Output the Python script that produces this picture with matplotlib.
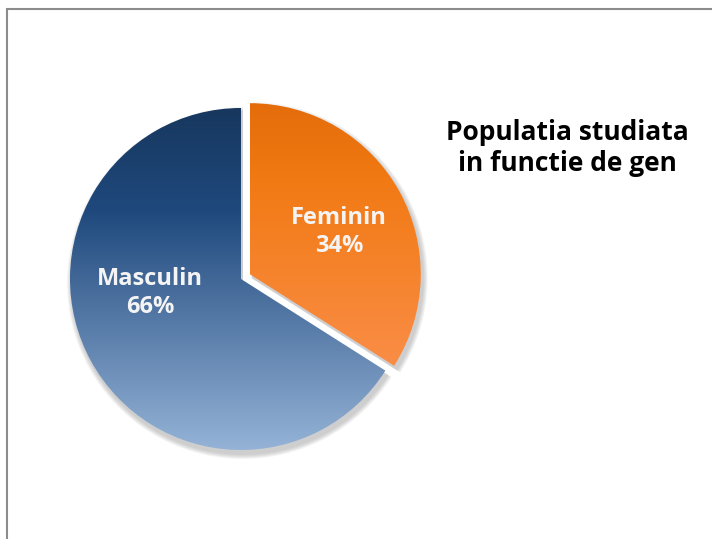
import numpy as np
import matplotlib.pyplot as plt
from matplotlib.colors import LinearSegmentedColormap
from matplotlib.patches import Rectangle, Wedge

# Data
labels = ["Feminin", "Masculin"]
values = [34, 66]
title = "Populatia studiata\nin functie de gen"

# Vertical gradients (top -> bottom) for each slice
gradients = {
    "Feminin": ["#E46C0A", "#F27A14", "#FA8D46"],
    "Masculin": ["#17375E", "#1F497D", "#95B3D7"],
}

W, H = 712, 539
fig = plt.figure(figsize=(W / 100, H / 100), dpi=100)
ax = fig.add_axes([0, 0, 1, 1])

center = (241, 260)
radius = 171
explode = [10, 0]  # pie explode is in data units here

wedges, _ = ax.pie(values, startangle=90, counterclock=False, center=center,
                   radius=radius, explode=explode, frame=False)

# soft shadow under each slice
for w in wedges:
    for k in range(6):
        sh = Wedge((w.center[0] + 2, w.center[1] - 4), w.r + 1 + k * 0.8,
                   w.theta1, w.theta2, facecolor="#7f7f7f", edgecolor="none",
                   alpha=0.07, zorder=0.5)
        ax.add_patch(sh)

# gradient fill clipped to each slice
for w, lab in zip(wedges, labels):
    w.set_facecolor("none")
    w.set_edgecolor("none")
    verts = w.get_path().vertices
    y0, y1 = verts[:, 1].min(), verts[:, 1].max()
    x0, x1 = verts[:, 0].min(), verts[:, 0].max()
    cmap = LinearSegmentedColormap.from_list(lab, [(0, gradients[lab][0]), (0.3, gradients[lab][1]), (1, gradients[lab][2])])
    grad = np.linspace(0, 1, 256).reshape(-1, 1)
    im = ax.imshow(grad, cmap=cmap, extent=(x0, x1, y0, y1), aspect="auto", origin="upper", zorder=1)
    im.set_clip_path(w)

# labels inside slices
pcts = [f"{v / sum(values) * 100:.0f}%" for v in values]
label_pos = {"Feminin": (339, 232), "Masculin": (150, 293)}
for lab, p in zip(labels, pcts):
    x, y = label_pos[lab]
    ax.text(x, H - y, f"{lab}\n{p}", ha="center", va="center", color="#f4f4f4",
            fontsize=17, fontweight="bold", family="Open Sans", linespacing=1.25, zorder=3)

ax.text(567, H - 148, title, ha="center", va="center", color="black",
        fontsize=19, fontweight="bold", family="Open Sans", linespacing=1.2, zorder=3)

# chart area border (right/bottom edges fall outside the image)
ax.add_patch(Rectangle((6.5, -10), W + 20, H - 8.5 + 10, facecolor="none",
                       edgecolor="#8c8c8c", linewidth=1.5, zorder=4))

ax.set_xlim(0, W)
ax.set_ylim(0, H)
ax.set_aspect("equal")
ax.axis("off")

fig.savefig("out.png", dpi=100)
